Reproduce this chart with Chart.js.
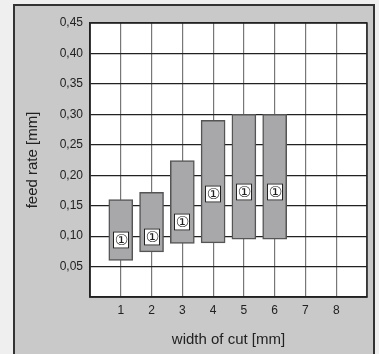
<!DOCTYPE html>
<html>
<head>
<meta charset="utf-8">
<script src="https://cdn.jsdelivr.net/npm/chart.js"></script>
<style>
  html, body { margin: 0; padding: 0; background: #efefef; }
  #wrap { width: 379px; height: 354px; }
</style>
</head>
<body>
<div id="wrap"><canvas id="feedChart" width="379" height="354"></canvas></div>
<script>
// width of cut [mm]
const cutWidths = [1, 2, 3, 4, 5, 6];
// feed rate range [mm] per width
const feedMin = [0.06, 0.074, 0.088, 0.089, 0.095, 0.095];
const feedMax = [0.16, 0.172, 0.224, 0.29, 0.30, 0.30];
// where the (1) marker sits on each bar
const markerPos = [0.093, 0.098, 0.123, 0.169, 0.173, 0.173];
const markerText = '\u2460';

// grey panel behind the chart + white plot area + frame
const panelPlugin = {
    id: 'panel',
    beforeDraw(chart) {
        const ctx = chart.ctx;
        const a = chart.chartArea;
        ctx.save();
        ctx.fillStyle = '#efefef';
        ctx.fillRect(0, 0, chart.width, chart.height);
        ctx.fillStyle = '#c9c9c9';
        ctx.fillRect(14, 5, 360, chart.height);
        ctx.strokeStyle = '#333';
        ctx.lineWidth = 2;
        ctx.strokeRect(14, 5, 360, chart.height + 10);
        ctx.fillStyle = '#fff';
        ctx.fillRect(a.left, a.top, a.right - a.left, a.bottom - a.top);
        ctx.restore();
    },
    afterDraw(chart) {
        const ctx = chart.ctx;
        const a = chart.chartArea;
        ctx.save();
        ctx.strokeStyle = '#222';
        ctx.lineWidth = 1.5;
        ctx.strokeRect(a.left, a.top, a.right - a.left, a.bottom - a.top);
        ctx.restore();
    }
};

// white boxes with the circled number
const markerPlugin = {
    id: 'markers',
    afterDatasetsDraw(chart) {
        const ctx = chart.ctx;
        const xs = chart.scales.x, ys = chart.scales.y;
        ctx.save();
        for (let i = 0; i < cutWidths.length; i++) {
            const x = Math.round(xs.getPixelForValue(cutWidths[i]));
            const y = Math.round(ys.getPixelForValue(markerPos[i]));
            ctx.fillStyle = '#fff';
            ctx.fillRect(x - 8, y - 8.5, 16, 17);
            ctx.strokeStyle = '#222';
            ctx.lineWidth = 1;
            ctx.strokeRect(x - 8 + 0.5, y - 8.5 + 0.5, 15, 16);
            ctx.fillStyle = '#222';
            ctx.font = '15px "DejaVu Sans", "Noto Sans CJK JP", sans-serif';
            ctx.textAlign = 'center';
            ctx.textBaseline = 'middle';
            ctx.fillText(markerText, x + 0.5, y + 1);
        }
        ctx.restore();
    }
};

const ctx = document.getElementById('feedChart').getContext('2d');
new Chart(ctx, {
    type: 'bar',
    data: {
        datasets: [{
            data: cutWidths.map((w, i) => ({ x: w, y: [feedMin[i], feedMax[i]] })),
            backgroundColor: '#a8a8aa',
            borderColor: '#555',
            borderWidth: 1.5,
            borderSkipped: false,
            barThickness: 24
        }]
    },
    options: {
        responsive: false,
        animation: false,
        layout: { padding: { left: 0, top: 23, right: 12, bottom: 0 } },
        plugins: {
            legend: { display: false },
            tooltip: { enabled: false }
        },
        scales: {
            x: {
                type: 'linear',
                min: 0,
                max: 9,
                offset: false,
                afterFit(scale) { scale.height = 57; },
                grid: {
                    offset: false,
                    drawTicks: false,
                    color: '#777',
                    lineWidth: 1.2
                },
                border: { color: '#222', width: 1.5 },
                ticks: {
                    stepSize: 1,
                    padding: 6,
                    color: '#222',
                    font: { family: '"Liberation Sans", Arial, sans-serif', size: 12 },
                    callback: (v) => (v === 0 || v === 9) ? '' : String(v)
                },
                title: {
                    display: true,
                    text: 'width of cut [mm]',
                    color: '#222',
                    font: { family: '"Liberation Sans", Arial, sans-serif', size: 15 },
                    padding: { top: 0, bottom: 5 }
                }
            },
            y: {
                min: 0,
                max: 0.45,
                afterFit(scale) { scale.width = 90; },
                grid: {
                    drawTicks: false,
                    color: '#222',
                    lineWidth: 1.2
                },
                border: { color: '#222', width: 1.5 },
                ticks: {
                    stepSize: 0.05,
                    padding: 7,
                    color: '#222',
                    font: { family: '"Liberation Sans", Arial, sans-serif', size: 12 },
                    callback: (v) => Math.abs(v) < 1e-9 ? '' : v.toFixed(2).replace('.', ',')
                },
                title: {
                    display: true,
                    text: 'feed rate [mm]',
                    color: '#222',
                    font: { family: '"Liberation Sans", Arial, sans-serif', size: 15 },
                    padding: { top: 24, bottom: 0 }
                }
            }
        }
    },
    plugins: [panelPlugin, markerPlugin]
});
</script>
</body>
</html>
